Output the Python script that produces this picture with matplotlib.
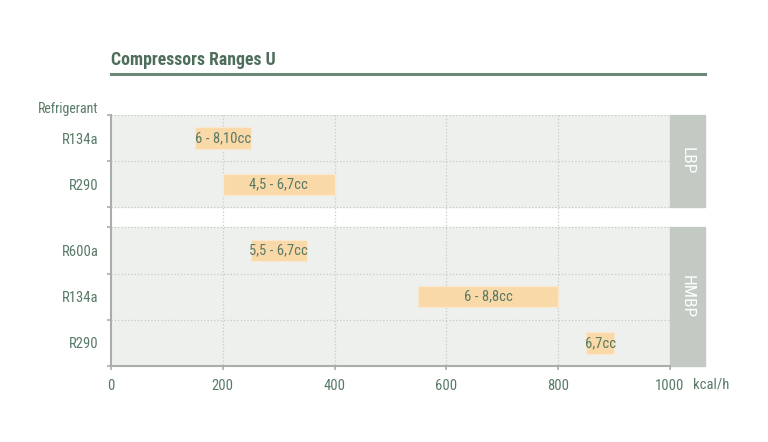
import matplotlib.pyplot as plt
from matplotlib import font_manager
from matplotlib.patches import Rectangle
import matplotlib.transforms as mtransforms

installed = set(f.name for f in font_manager.fontManager.ttflist)
wanted = ['Roboto Condensed', 'Archivo Narrow', 'PT Sans Narrow', 'Liberation Sans Narrow',
          'Pragati Narrow', 'Open Sans Condensed', 'Encode Sans Condensed']
fam = [f for f in wanted if f in installed][:1] + ['DejaVu Sans']
plt.rcParams['font.family'] = fam

# data
groups = ['LBP', 'HMBP']
group_rows = [['R134a', 'R290'], ['R600a', 'R134a', 'R290']]
bar_start = [[150, 200], [250, 550, 850]]
bar_end = [[250, 400], [350, 800, 900]]
bar_labels = [['6 - 8,10cc', '4,5 - 6,7cc'], ['5,5 - 6,7cc', '6 - 8,8cc', '6,7cc']]
x_ticks = [0, 200, 400, 600, 800, 1000]

txt = '#587a66'
panel = '#eef0ee'
band = '#c2cac3'
peach = '#fad9a8'
grid = '#c6cbc6'

gap = 0.435
fig = plt.figure(figsize=(7.68, 4.42), dpi=100)
ax = fig.add_axes([111 / 768, 1 - 366 / 442, 559 / 768, 251 / 442])

y0 = 0
boundaries = []
centers = []
names = []
for gi, rows in enumerate(group_rows):
    top = y0
    bottom = y0 + len(rows)
    ax.add_patch(Rectangle((0, top), 1000, len(rows), color=panel, zorder=0))
    ax.add_patch(Rectangle((1000, top), 63, len(rows), color=band, clip_on=False, zorder=0))
    ax.text(1031, (top + bottom) / 2, groups[gi], rotation=-90, color='white',
            ha='center', va='center', fontsize=12.5)
    for ri, name in enumerate(rows):
        c = y0 + ri + 0.5
        ax.barh(c, bar_end[gi][ri] - bar_start[gi][ri], left=bar_start[gi][ri],
                height=0.46, color=peach, edgecolor='#fbe9cf', linewidth=0.8, zorder=3)
        ax.text((bar_start[gi][ri] + bar_end[gi][ri]) / 2, c, bar_labels[gi][ri],
                ha='center', va='center', color=txt, fontsize=10.5, zorder=4)
        centers.append(c)
        names.append(name)
    for k in range(len(rows) + 1):
        boundaries.append(y0 + k)
    y0 = bottom + gap

total = y0 - gap
for b in boundaries:
    ax.plot([0, 1000], [b, b], color=grid, linestyle=':', linewidth=0.9, zorder=1)
for xv in x_ticks[1:-1]:
    ax.plot([xv, xv], [0, total], color=grid, linestyle=':', linewidth=0.9, zorder=1)

ax.set_xlim(0, 1000)
ax.set_ylim(total, 0)
ax.set_facecolor('white')
for s in ['top', 'right']:
    ax.spines[s].set_visible(False)
for s in ['left', 'bottom']:
    ax.spines[s].set_color('#a9aea9')
    ax.spines[s].set_linewidth(1.5)

ax.set_xticks(x_ticks)
ax.set_xticklabels([str(v) for v in x_ticks])
ax.tick_params(axis='x', colors='#a9aea9', labelcolor=txt, length=3, width=1.2,
               labelsize=10.5, pad=6)
ax.set_yticks(boundaries)
ax.set_yticklabels([])
ax.set_yticks(centers, minor=True)
ax.set_yticklabels(names, minor=True)
ax.tick_params(axis='y', which='major', colors='#a9aea9', length=3, width=1.2)
ax.tick_params(axis='y', which='minor', length=0, labelcolor=txt, labelsize=10.5, pad=9)

ax.text(1041, total, 'kcal/h', color=txt, fontsize=10.5, ha='left', va='top',
        transform=mtransforms.offset_copy(ax.transData, fig=fig, y=-8.3, units='points'))

fig.text(98 / 768, 1 - 109 / 442, 'Refrigerant', color=txt, fontsize=10, ha='right', va='center')
fig.text(111 / 768, 1 - 60 / 442, 'Compressors Ranges U', color='#4e6e5b', fontsize=12.8,
         fontweight='bold', ha='left', va='center')
fig.add_artist(plt.Line2D([111 / 768, 705 / 768], [1 - 73.5 / 442, 1 - 73.5 / 442],
                          color='#6a8876', linewidth=2.2))

fig.savefig('out.png', dpi=100)
